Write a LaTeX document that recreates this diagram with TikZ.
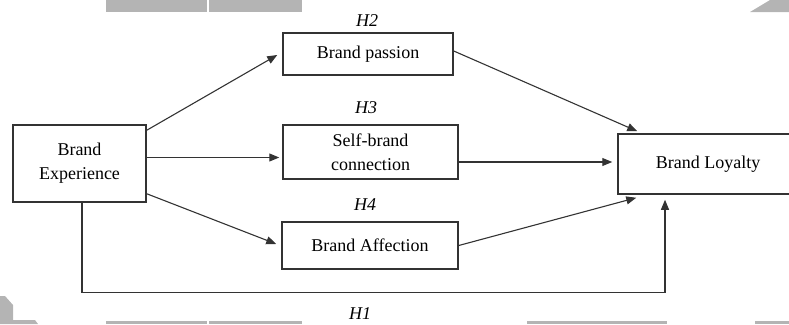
\documentclass[tikz,border=0pt]{standalone}
\usepackage{fontspec}
\setmainfont{Liberation Serif}
\usetikzlibrary{arrows.meta,calc}
\definecolor{ln}{HTML}{333333}
\definecolor{wm}{HTML}{B4B4B4}
\begin{document}
\begin{tikzpicture}[x=1pt,y=-1pt,
  box/.style={draw=ln,line width=1.5pt,fill=white,align=center,font=\fontsize{18}{24}\selectfont,inner sep=0pt},
  arr/.style={draw=ln,line width=1.1pt,-{Triangle[length=10pt,width=8pt]}},
  hyp/.style={font=\fontsize{18}{22}\selectfont\itshape,inner sep=0pt},
  wmark/.style={fill=wm,draw=none}]
\useasboundingbox (0,0) rectangle (789,324);
\clip (0,0) rectangle (789,324);
% background marks
\fill[wmark] (106,0) rectangle (207,12);
\fill[wmark] (209,0) rectangle (302,12);
\fill[wmark] (750,12) -- (770,0) -- (789,0) -- (789,12) -- cycle;
\fill[wmark] (0,296) -- (5,296) -- (13,305) -- (13,320) -- (35,320) -- (38,324) -- (0,324) -- cycle;
\fill[wmark] (106,321) rectangle (207,324);
\fill[wmark] (209,321) rectangle (302,324);
\fill[wmark] (527,321) rectangle (667,324);
\fill[wmark] (755,321) rectangle (789,324);
% nodes
\node[box,minimum width=133pt,minimum height=77pt] (BE) at (79.5,163.5) {Brand\\Experience};
\node[box,minimum width=170pt,minimum height=42pt] (BP) at (368,54) {Brand passion};
\node[box,minimum width=175pt,minimum height=54pt] (SBC) at (370.5,152) {Self-brand\\connection};
\node[box,minimum width=176pt,minimum height=47pt] (BA) at (370,245.5) {Brand Affection};
\node[box,minimum width=180pt,minimum height=60pt] (BL) at (708,164) {Brand Loyalty};
% labels
\node[hyp] (h2) at (367,21) {H2};
\node[hyp] (h3) at (366,108) {H3};
\node[hyp] (h4) at (365,205) {H4};
\node[hyp] (h1) at (360,314) {H1};
% connectors
\draw[arr] ([yshift=-6pt]BE.north east) -- ([xshift=-5pt,yshift=-1pt]BP.west);
\draw[arr,shorten >=3pt] ([yshift=6pt]BE.east) coordinate (a) -- (a -| SBC.west);
\draw[arr] ([yshift=9pt]BE.south east) -- ([xshift=-5pt,yshift=1.5pt]BA.west);
\draw[arr] ([yshift=3pt]BP.east) -- ([xshift=20pt,yshift=2pt]BL.north west);
\draw[arr,shorten >=5pt] ([yshift=-10pt]SBC.east) coordinate (b) -- (b -| BL.west);
\draw[arr] (BA.east) -- ([xshift=19pt,yshift=-3pt]BL.south west);
\draw[arr,shorten >=5pt] ([xshift=2.5pt]BE.south) -- ++(0,90) -| ([xshift=-43pt]BL.south);
\end{tikzpicture}
\end{document}
